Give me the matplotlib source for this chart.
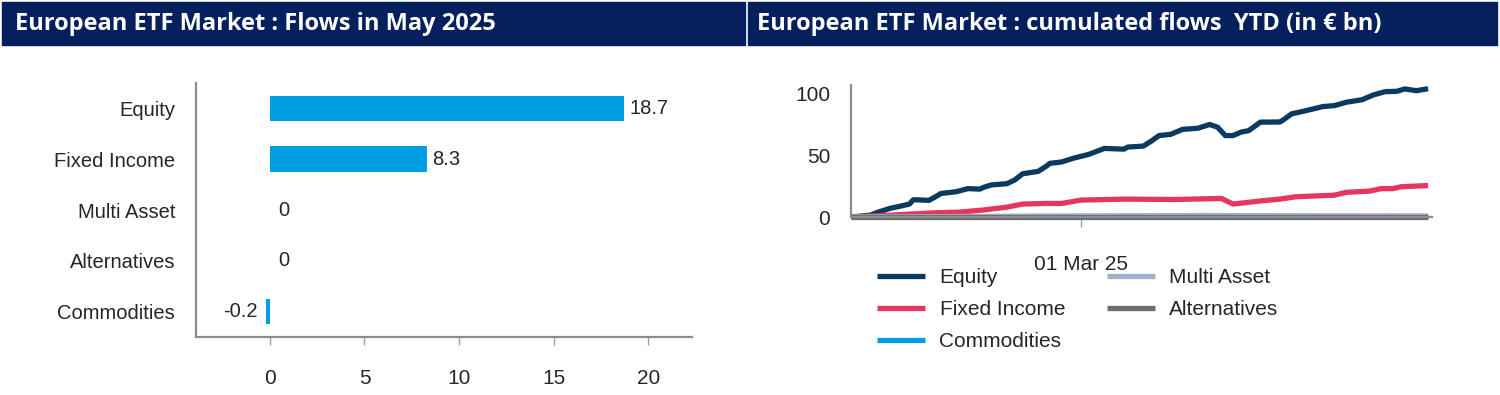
import matplotlib
matplotlib.use('Agg')
import matplotlib.pyplot as plt
import matplotlib.dates as mdates
from matplotlib.patches import Rectangle
import pandas as pd

# --- left: flows in May 2025 (EUR bn)
categories = ['Equity', 'Fixed Income', 'Multi Asset', 'Alternatives', 'Commodities']
may_flows = [18.7, 8.3, 0, 0, -0.2]
flow_labels = ['18.7', '8.3', '0', '0', '-0.2']

# --- right: cumulated flows YTD (EUR bn), x = days since 1 Jan 2025
eq_days = [0, 5, 7, 10, 13, 15, 16, 20, 22, 23, 27, 30, 33, 34, 36, 40, 42, 44, 48, 50,
           51, 54, 57, 61, 65, 70, 71, 75, 77, 79, 82, 85, 89, 92, 94, 96, 98, 100, 102,
           105, 110, 111, 113, 116, 121, 124, 127, 131, 134, 137, 140, 142, 145, 148]
eq_vals = [0, 1.5, 4, 7, 9, 10.5, 14, 13.5, 17, 19, 20.5, 23, 22.6, 24, 26, 27, 30, 35, 37, 41,
           43.5, 44.6, 47.6, 50.8, 55.6, 55, 56.7, 57.5, 61.5, 66, 67, 71, 72, 75, 72.8, 66, 66, 68.8, 70,
           76.9, 77, 79, 83.6, 85.7, 89.5, 90.3, 93, 95, 99, 101.6, 101.9, 103.8, 102.4, 104]

fi_days = [0, 11, 20, 28, 34, 40, 44, 50, 54, 59, 70, 83, 95, 98, 105, 110, 114, 124, 127,
           133, 136, 139, 141, 148]
fi_vals = [0, 1.6, 3.2, 4, 5.7, 8, 10.5, 11, 11, 13.7, 14.5, 14.2, 15, 10.5, 13, 14.5, 16.4, 17.7, 20,
           21, 23, 23, 24.5, 25.5]

com_days = [0, 30, 60, 90, 120, 148]
com_vals = [0, 0.3, 0.5, 0.4, 0.2, 0.1]

ma_days = [0, 30, 60, 90, 120, 148]
ma_vals = [0, 0.4, 0.8, 1.2, 1.0, 0.9]

alt_days = [0, 30, 60, 90, 120, 148]
alt_vals = [0, 0, 0, 0, 0, 0]

navy = '#06205E'
bar_blue = '#009FE3'
txt = '#262626'
spine_c = '#8C8C8C'

fig = plt.figure(figsize=(15, 3.95), dpi=100)

# header bands
titles = ['European ETF Market : Flows in May 2025',
          'European ETF Market : cumulated flows  YTD (in \u20ac bn)']
for x0, w, tx, t in [(2, 743, 15, titles[0]), (748, 749, 757, titles[1])]:
    fig.patches.append(Rectangle((x0 / 1500, 1 - 45 / 395), w / 1500, 43 / 395,
                                 transform=fig.transFigure, color=navy, zorder=0))
    fig.text(tx / 1500, 1 - 24 / 395, t, color='white', fontweight='bold',
             fontsize=17, family='Open Sans', va='center', ha='left')

# bar chart
ax1 = fig.add_axes([196 / 1500, 1 - 337 / 395, 496 / 1500, 254 / 395])
pos = list(range(len(categories)))
ax1.barh(pos, may_flows, height=0.5, color=bar_blue)
ax1.set_ylim(4.5, -0.5)
ax1.set_xlim(-3.9, 22.3)
ax1.set_yticks(pos, categories)
ax1.set_xticks([0, 5, 10, 15, 20])
ax1.tick_params(axis='y', length=0, pad=15, labelsize=14.5, labelcolor=txt)
ax1.tick_params(axis='x', length=6, width=1, color='#A0A0A0', pad=17, labelsize=15, labelcolor=txt)
for s in ['top', 'right']:
    ax1.spines[s].set_visible(False)
for s in ['left', 'bottom']:
    ax1.spines[s].set_color(spine_c)
    ax1.spines[s].set_linewidth(1.6)
for i, (v, lab) in enumerate(zip(may_flows, flow_labels)):
    if v > 0:
        off, ha = 4, 'left'
    elif v == 0:
        off, ha = 6, 'left'
    else:
        off, ha = -6, 'right'
    ax1.annotate(lab, (v, i), xytext=(off, 0), textcoords='offset points',
                 ha=ha, va='center', fontsize=14.5, color=txt, family='Liberation Sans')
for lab in ax1.get_xticklabels() + ax1.get_yticklabels():
    lab.set_family('Liberation Sans')

# line chart
ax2 = fig.add_axes([851 / 1500, 1 - 217 / 395, 581 / 1500, 132 / 395])
base = pd.Timestamp('2025-01-01')
series = [
    ('Equity', eq_days, eq_vals, '#0B3A60'),
    ('Fixed Income', fi_days, fi_vals, '#E5365F'),
    ('Commodities', com_days, com_vals, '#00A0E0'),
    ('Multi Asset', ma_days, ma_vals, '#9DB3CB'),
    ('Alternatives', alt_days, alt_vals, '#6E6E6E'),
]
for name, d, v, c in series:
    x = base + pd.to_timedelta(d, unit='D')
    ax2.plot(x, v, color=c, lw=3.8, label=name, clip_on=False, solid_capstyle='butt')
ax2.set_xlim(base, pd.Timestamp('2025-05-30'))
ax2.set_ylim(0, 107)
ax2.set_yticks([0, 50, 100])
ax2.set_xticks([pd.Timestamp('2025-03-01')])
ax2.xaxis.set_major_formatter(mdates.DateFormatter('%d %b %y'))
ax2.tick_params(axis='y', length=0, pad=15, labelsize=15, labelcolor=txt)
ax2.tick_params(axis='x', length=7, width=1, color='#A0A0A0', pad=20, labelsize=15, labelcolor=txt)
for s in ['top', 'right']:
    ax2.spines[s].set_visible(False)
for s in ['left', 'bottom']:
    ax2.spines[s].set_color(spine_c)
    ax2.spines[s].set_linewidth(1.6)
for lab in ax2.get_xticklabels() + ax2.get_yticklabels():
    lab.set_family('Liberation Sans')

leg = ax2.legend(loc='upper left', bbox_to_anchor=(877 / 1500, 1 - 268 / 395),
                 bbox_transform=fig.transFigure, ncol=2, frameon=False,
                 prop={'family': 'Liberation Sans', 'size': 15},
                 handlelength=2.3, handletextpad=0.7, columnspacing=2.0,
                 labelspacing=0.62, borderpad=0, borderaxespad=0)
for t in leg.get_texts():
    t.set_color(txt)

fig.savefig('out.png', dpi=100)
